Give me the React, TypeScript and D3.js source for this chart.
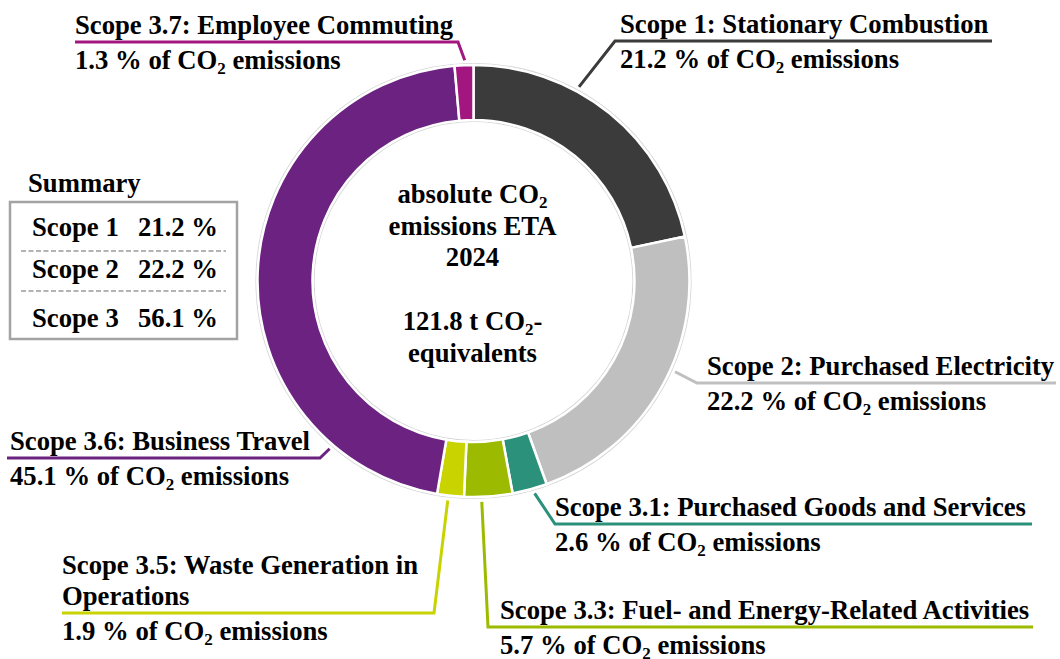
import React from "react";
import * as d3 from "d3";

// slice shares as drawn in the picture (arc angles)
const categories = [
    "Scope 1: Stationary Combustion",
    "Scope 2: Purchased Electricity",
    "Scope 3.1: Purchased Goods and Services",
    "Scope 3.3: Fuel- and Energy-Related Activities",
    "Scope 3.5: Waste Generation in|Operations",
    "Scope 3.6: Business Travel",
    "Scope 3.7: Employee Commuting",
];
const sliceShares = [21.7, 22.8, 2.6, 3.6, 2.0, 45.9, 1.4];
// percentages printed in the labels
const labelPercents = ["21.2", "22.2", "2.6", "5.7", "1.9", "45.1", "1.3"];
const colors = ["#3b3b3b", "#bfbfbf", "#2b917a", "#9cba00", "#c8d300", "#6b2280", "#a1167f"];

const summaryScopes = ["Scope 1", "Scope 2", "Scope 3"];
const summaryValues = ["21.2", "22.2", "56.1"];

const centerLines = ["absolute CO2", "emissions ETA", "2024", "", "121.8 t CO2-", "equivalents"];

// label placement (layout only)
const labelLayout = [
    { textX: 620, lineY: 41, elbowX: 615, endX: 992, at: 0.365 },
    { textX: 707, lineY: 383, elbowX: 697, endX: 1056, at: 0.44 },
    { textX: 555, lineY: 524, elbowX: 555, endX: 1032, at: 0.4 },
    { textX: 500, lineY: 627, elbowX: 488, endX: 1033, at: 0.64 },
    { textX: 62, lineY: 613, elbowX: 434, endX: 62, at: 0.58 },
    { textX: 10, lineY: 458, elbowX: 320, endX: 7, at: 0.187 },
    { textX: 75, lineY: 42, elbowX: 458, endX: 75, at: 0.55 },
];
const summaryRowY = [236, 278, 327];
const summaryDashY = [251, 291];

const width = 1060;
const height = 659;
const cx = 473.5;
const cy = 281;
const outerR = 216;
const innerR = 161;
const font = "'Liberation Serif', 'Times New Roman', serif";
const subSize = 17;
const subDy = 5;

// renders "CO2" with a subscript 2
const withSub = (s: string) => {
    const parts = s.split("CO2");
    const out: JSX.Element[] = [];
    parts.forEach((p, i) => {
        if (p) out.push(<tspan key={"p" + i} dy={i > 0 ? -subDy : undefined}>{p}</tspan>);
        if (i < parts.length - 1) {
            out.push(<tspan key={"c" + i}>CO</tspan>);
            out.push(
                <tspan key={"s" + i} fontSize={subSize} dy={subDy}>
                    2
                </tspan>,
            );
        }
    });
    return out;
};

const App = () => {
    const pie = d3
        .pie<number>()
        .sort(null)
        .value((d) => d);
    const arcs = pie(sliceShares);
    const arc = d3.arc<d3.PieArcDatum<number>>().innerRadius(innerR).outerRadius(outerR);
    const line = d3.line<[number, number]>();

    return (
        <svg
            width={width}
            height={height}
            style={{ position: "absolute", left: 0, top: 0, background: "#fff" }}
            fontFamily={font}
            fontWeight="bold"
            fontSize={26.7}
        >
            {/* donut */}
            <g transform={`translate(${cx},${cy})`}>
                <circle r={outerR + 1.5} fill="none" stroke="#d6d6d6" strokeWidth={1.2} />
                <circle r={innerR - 1.5} fill="none" stroke="#d6d6d6" strokeWidth={1.2} />
                {arcs.map((a, i) => (
                    <path key={i} d={arc(a) as string} fill={colors[i]} stroke="#fff" strokeWidth={2.5} />
                ))}
            </g>

            {/* centre text */}
            <g textAnchor="middle">
                {centerLines.map((t, i) => (
                    <text key={i} x={cx - 1} y={203 + i * 31.7} fill="#000">
                        {withSub(t)}
                    </text>
                ))}
            </g>

            {/* leader lines + labels */}
            {arcs.map((a, i) => {
                const l = labelLayout[i];
                const ang = a.startAngle + l.at * (a.endAngle - a.startAngle);
                const r = outerR + 5;
                const pts: [number, number][] = [
                    [cx + r * Math.sin(ang), cy - r * Math.cos(ang)],
                    [l.elbowX, l.lineY],
                    [l.endX, l.lineY],
                ];
                const titles = categories[i].split("|");
                return (
                    <g key={i}>
                        <path
                            d={line(pts) as string}
                            fill="none"
                            stroke={colors[i]}
                            strokeWidth={3}
                            strokeLinejoin="miter"
                        />
                        {titles.map((t, j) => (
                            <text key={j} x={l.textX} y={l.lineY - 8 - (titles.length - 1 - j) * 31.5} fill="#000">
                                {t}
                            </text>
                        ))}
                        <text x={l.textX} y={l.lineY + 27} fill="#000">
                            {withSub(`${labelPercents[i]} % of CO2 emissions`)}
                        </text>
                    </g>
                );
            })}

            {/* summary box */}
            <text x={28} y={192} fill="#000">
                Summary
            </text>
            <rect x={10} y={202} width={227} height={137} fill="#fff" stroke="#a3a3a3" strokeWidth={2.5} />
            {summaryScopes.map((s, i) => (
                <g key={s}>
                    <text x={32} y={summaryRowY[i]} fill="#000">
                        {s}
                    </text>
                    <text x={218} y={summaryRowY[i]} textAnchor="end" fill="#000">
                        {summaryValues[i]} %
                    </text>
                </g>
            ))}
            {summaryDashY.map((y) => (
                <line key={y} x1={21} x2={226} y1={y} y2={y} stroke="#9a9a9a" strokeWidth={1.5} strokeDasharray="5 2.5" />
            ))}
        </svg>
    );
};

export default App;
